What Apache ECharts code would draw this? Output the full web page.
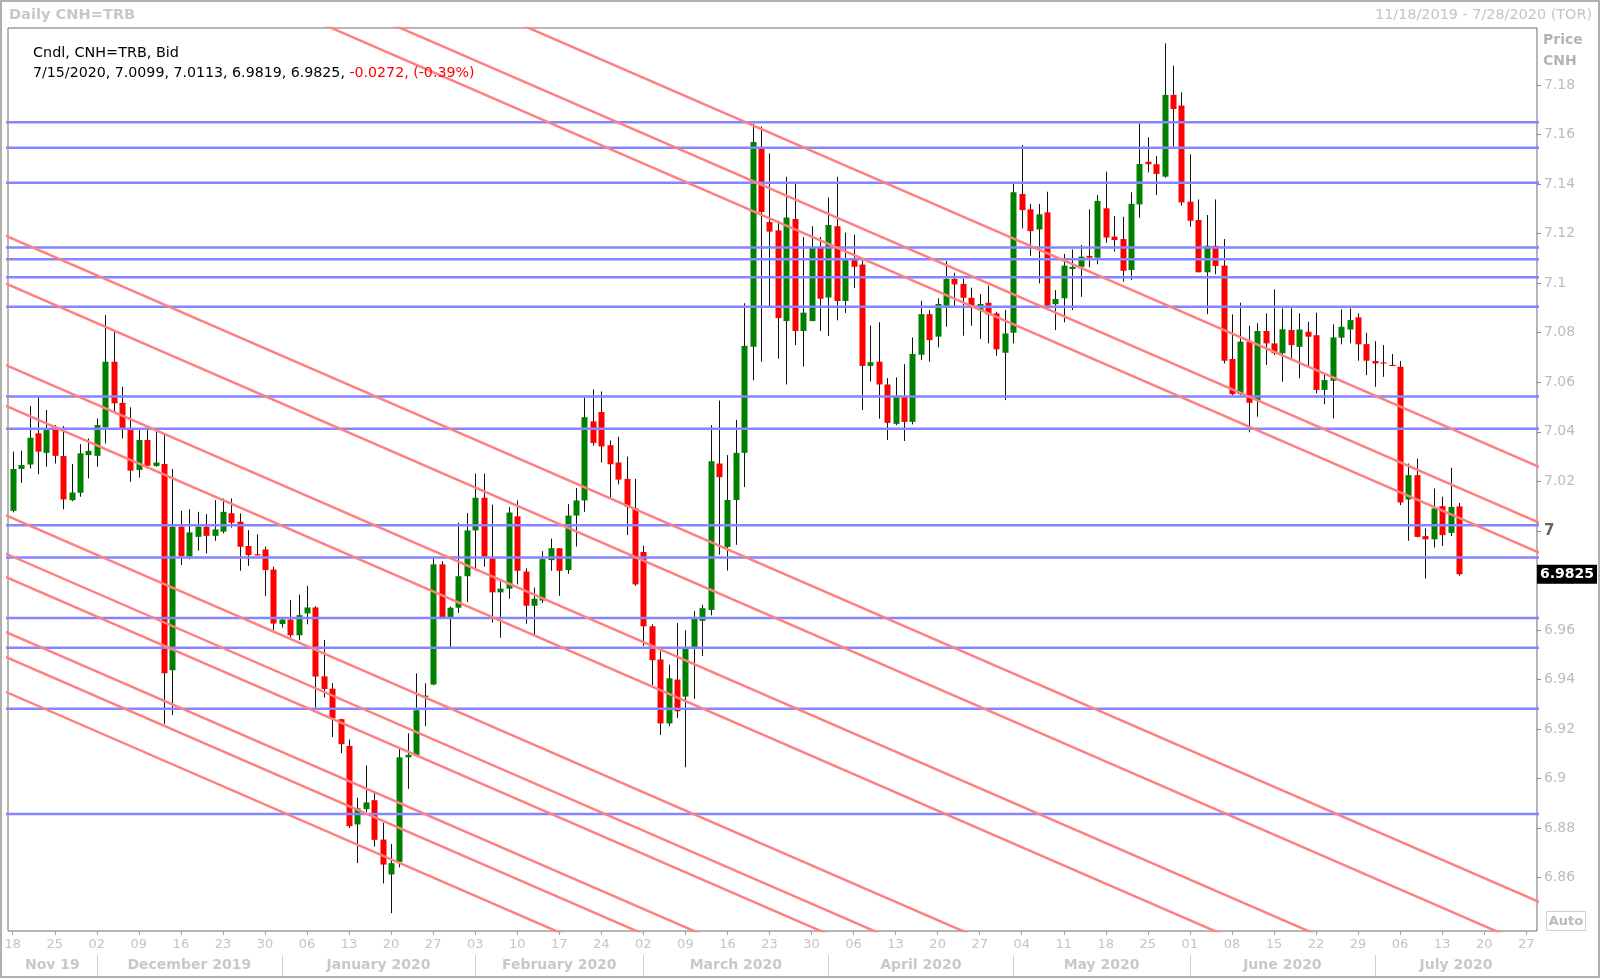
<!DOCTYPE html>
<html><head><meta charset="utf-8">
<script src="https://cdn.jsdelivr.net/npm/echarts@6/dist/echarts.min.js"></script>
<style>html,body{margin:0;padding:0;background:#fff}#c{width:1600px;height:978px}</style>
</head><body><div id="c"></div>
<script>
// ---- data ----
const opens = [7.0081,7.0250,7.0268,7.0394,7.0315,7.0420,7.0302,7.0124,7.0154,7.0306,
7.0303,7.0418,7.0683,7.0517,7.0407,7.0246,7.0367,7.0262,7.0270,6.9438,
7.0017,6.9896,6.9976,7.0017,6.9980,6.9997,7.0071,7.0037,6.9939,6.9905,
6.9925,6.9844,6.9624,6.9642,6.9579,6.9667,6.9691,6.9413,6.9363,6.9240,
6.9132,6.8815,6.8877,6.8913,6.8754,6.8613,6.8664,6.9086,6.9092,6.9330,
6.9380,6.9865,6.9651,6.9690,6.9817,7.0002,7.0134,6.9889,6.9752,6.9767,
7.0059,6.9836,6.9698,6.9719,6.9882,6.9930,6.9842,7.0062,7.0123,7.0442,
7.0480,7.0346,7.0276,7.0210,7.0091,6.9915,6.9615,6.9481,6.9223,6.9400,
6.9331,6.9526,6.9637,6.9681,7.0272,6.9935,7.0125,7.0315,7.0743,7.1544,
7.1247,7.1213,7.0847,7.1259,7.0807,7.0847,7.1144,7.0942,7.1230,7.0928,
7.1101,7.1075,7.0666,7.0683,7.0591,7.0432,7.0542,7.0440,7.0711,7.0875,
7.0784,7.0909,7.1017,7.0997,7.0941,7.0891,7.0921,7.0878,7.0719,7.0800,
7.1360,7.1298,7.1217,7.1286,7.0915,7.0939,7.1057,7.1066,7.1110,7.1103,
7.1302,7.1188,7.1178,7.1053,7.1318,7.1490,7.1480,7.1430,7.1760,7.1717,
7.1329,7.1255,7.1044,7.1151,7.1071,7.0694,7.0552,7.0764,7.0528,7.0807,
7.0757,7.0717,7.0811,7.0743,7.0804,7.0790,7.0569,7.0606,7.0780,7.0813,
7.0862,7.0754,7.0686,7.0680,7.0669,7.0663,7.0127,7.0225,6.9979,6.9966,
7.0100,6.9992,7.0099];
const highs = [7.0320,7.0324,7.0504,7.0538,7.0488,7.0427,7.0423,7.0270,7.0350,7.0373,
7.0454,7.0871,7.0807,7.0582,7.0499,7.0407,7.0414,7.0400,7.0390,7.0250,
7.0081,7.0087,7.0077,7.0068,7.0124,7.0131,7.0131,7.0071,7.0003,6.9986,
6.9936,6.9855,6.9647,6.9721,6.9743,6.9778,6.9696,6.9560,6.9385,6.9242,
6.9158,6.8923,6.9053,6.8945,6.8822,6.8736,6.9125,6.9183,6.9425,6.9385,
6.9889,6.9878,6.9695,7.0033,7.0072,7.0231,7.0231,7.0106,6.9796,7.0096,
7.0123,6.9849,6.9771,6.9918,6.9969,6.9930,7.0108,7.0173,7.0538,7.0571,
7.0563,7.0365,7.0380,7.0300,7.0210,6.9940,6.9623,6.9514,6.9460,6.9628,
6.9599,6.9676,6.9702,7.0427,7.0526,7.0306,7.0448,7.0919,7.1644,7.1632,
7.1523,7.1252,7.1429,7.1403,7.1187,7.1230,7.1187,7.1346,7.1429,7.1204,
7.1196,7.1092,7.0829,7.0842,7.0617,7.0620,7.0673,7.0781,7.0929,7.0891,
7.0939,7.1089,7.1042,7.1017,7.0982,7.0956,7.0990,7.0885,7.0892,7.1403,
7.1558,7.1320,7.1320,7.1369,7.0972,7.1118,7.1136,7.1154,7.1298,7.1356,
7.1450,7.1271,7.1268,7.1367,7.1645,7.1589,7.1513,7.1968,7.1878,7.1770,
7.1520,7.1338,7.1275,7.1338,7.1178,7.0874,7.0921,7.0828,7.0838,7.0878,
7.0975,7.0898,7.0898,7.0878,7.0844,7.0881,7.0636,7.0834,7.0894,7.0898,
7.0878,7.0800,7.0766,7.0750,7.0714,7.0686,7.0272,7.0292,7.0010,7.0171,
7.0138,7.0255,7.0113];
const lows = [7.0075,7.0194,7.0252,7.0229,7.0259,7.0272,7.0087,7.0120,7.0138,7.0212,
7.0259,7.0353,7.0474,7.0373,7.0198,7.0215,7.0252,7.0259,6.9220,6.9256,
6.9862,6.9885,6.9920,6.9909,6.9960,6.9990,7.0013,6.9839,6.9859,6.9900,
6.9738,6.9599,6.9610,6.9570,6.9559,6.9623,6.9287,6.9327,6.9168,6.9103,
6.8801,6.8659,6.8866,6.8726,6.8577,6.8457,6.8642,6.8959,6.9089,6.9212,
6.9377,6.9649,6.9529,6.9669,6.9713,6.9839,6.9856,6.9630,6.9569,6.9726,
6.9784,6.9625,6.9579,6.9709,6.9839,6.9738,6.9827,6.9937,7.0077,7.0344,
7.0276,7.0134,7.0188,6.9983,6.9778,6.9536,6.9377,6.9176,6.9212,6.9245,
6.9046,6.9322,6.9495,6.9659,6.9904,6.9840,6.9944,7.0177,7.0608,7.0683,
7.0902,7.0695,7.0591,7.0750,7.0664,7.0847,7.0807,7.0787,7.0850,7.0880,
7.0980,7.0488,7.0603,7.0453,7.0367,7.0427,7.0363,7.0430,7.0690,7.0683,
7.0741,7.0824,7.0909,7.0788,7.0828,7.0775,7.0757,7.0707,7.0528,7.0757,
7.1221,7.1110,7.0999,7.0909,7.0811,7.0842,7.0892,7.0945,7.1064,7.1076,
7.1163,7.1127,7.1006,7.1013,7.1264,7.1447,7.1356,7.1426,7.1551,7.1313,
7.1228,7.1044,7.0875,7.1036,7.0676,7.0548,7.0548,7.0398,7.0461,7.0670,
7.0710,7.0602,7.0690,7.0616,7.0663,7.0555,7.0511,7.0454,7.0753,7.0757,
7.0687,7.0629,7.0582,7.0622,7.0665,7.0104,6.9960,6.9974,6.9808,6.9933,
6.9939,6.9979,6.9819];
const closes = [7.0250,7.0266,7.0376,7.0320,7.0407,7.0303,7.0127,7.0155,7.0313,7.0323,
7.0427,7.0683,7.0515,7.0407,7.0243,7.0367,7.0263,7.0276,6.9425,7.0017,
6.9898,6.9994,7.0017,6.9980,7.0006,7.0077,7.0033,6.9936,6.9902,6.9902,
6.9842,6.9626,6.9642,6.9579,6.9660,6.9691,6.9412,6.9362,6.9243,6.9139,
6.8808,6.8880,6.8904,6.8753,6.8653,6.8659,6.9086,6.9096,6.9276,6.9335,
6.9865,6.9651,6.9690,6.9817,7.0002,7.0134,6.9897,6.9752,6.9767,7.0074,
6.9839,6.9698,6.9726,6.9886,6.9930,6.9839,7.0062,7.0123,7.0459,7.0355,
7.0341,7.0269,7.0207,7.0098,6.9784,6.9615,6.9478,6.9223,6.9405,6.9272,
6.9526,6.9650,6.9688,7.0281,7.0217,7.0125,7.0315,7.0747,7.1570,7.1287,
7.1208,7.0859,7.1265,7.0807,7.0881,7.1144,7.0937,7.1235,7.0928,7.1101,
7.1066,7.0666,7.0681,7.0591,7.0436,7.0545,7.0440,7.0714,7.0875,7.0770,
7.0916,7.1017,7.0995,7.0941,7.0909,7.0916,7.0874,7.0733,7.0797,7.1367,
7.1295,7.1210,7.1278,7.0909,7.0936,7.1071,7.1066,7.1107,7.1103,7.1332,
7.1184,7.1174,7.1050,7.1320,7.1481,7.1480,7.1441,7.1760,7.1703,7.1326,
7.1252,7.1044,7.1151,7.1069,7.0687,7.0552,7.0764,7.0517,7.0807,7.0757,
7.0717,7.0814,7.0750,7.0813,7.0784,7.0569,7.0609,7.0781,7.0824,7.0851,
7.0753,7.0687,7.0676,7.0676,7.0667,7.0115,7.0225,6.9976,6.9966,7.0091,
6.9983,7.0097,6.9825];

const firstDay = [2019, 11, 18];
const lastDay = [2020, 7, 28];
const yTicks = [6.86,6.88,6.90,6.92,6.94,6.96,6.98,7.00,7.02,7.04,7.06,7.08,7.10,7.12,7.14,7.16,7.18];
const monthLabels = ['Nov 19','December 2019','January 2020','February 2020','March 2020','April 2020','May 2020','June 2020','July 2020'];
// horizontal support / resistance levels (blue)
const levels = [7.1650,7.1547,7.1405,7.1144,7.1097,7.1024,7.0905,7.0543,7.0412,7.0023,6.9893,6.9648,6.9528,6.9282,6.8857];
// trend lines (red): price on 2019-11-18 and on 2020-07-28
const trendLines = [
  [7.2935,7.0266],[7.2710,7.0041],[7.2589,6.9920],
  [7.1179,6.8510],[7.0986,6.8317],[7.0657,6.7988],[7.0493,6.7824],
  [7.0051,6.7382],[6.9896,6.7227],[6.9802,6.7133],[6.9580,6.6911],
  [6.9479,6.6810],[6.9338,6.6669]
];

// ---- axis categories: every weekday in the range ----
const dates = [];
(function(){
  let t = Date.UTC(firstDay[0], firstDay[1]-1, firstDay[2]);
  const end = Date.UTC(lastDay[0], lastDay[1]-1, lastDay[2]);
  while (t <= end) { const d = new Date(t); const wd = d.getUTCDay(); if (wd > 0 && wd < 6) dates.push(d); t += 86400000; }
})();
const lastIdx = dates.length - 1;
const X_MIN = -0.56, X_MAX = lastIdx + 0.28;
const Y_MIN = 6.8385, Y_MAX = 7.2030;
const mondays = [];
const monthStarts = [];
dates.forEach((d, i) => {
  if (d.getUTCDay() === 1) mondays.push(i);
  if (i > 0 && d.getUTCMonth() !== dates[i-1].getUTCMonth()) monthStarts.push(i);
});
const bounds = [X_MIN].concat(monthStarts, [X_MAX]);
const monthMids = [];
for (let k = 0; k < bounds.length - 1; k++) monthMids.push((bounds[k] + bounds[k+1]) / 2);

const FONT = 'DejaVu Sans';
const candleData = opens.map((o, i) => [i, o, closes[i], lows[i], highs[i]]);

const series = [];
series.push({
  type: 'custom', xAxisIndex: 0, yAxisIndex: 0, clip: true, z: 2, silent: true,
  data: candleData,
  encode: { x: 0, y: [1,2,3,4] },
  renderItem: function (params, api) {
    const x = api.value(0), o = api.value(1), c = api.value(2), l = api.value(3), h = api.value(4);
    const pO = api.coord([x, o]), pC = api.coord([x, c]), pL = api.coord([x, l]), pH = api.coord([x, h]);
    let top = Math.min(pO[1], pC[1]), bot = Math.max(pO[1], pC[1]);
    if (bot - top < 1.2) { const m = (top + bot) / 2; top = m - 0.6; bot = m + 0.6; }
    const rx = Math.round(pO[0]);
    const col = c >= o ? '#008000' : '#ff0000';
    return { type: 'group', children: [
      { type: 'line', shape: { x1: rx + 0.5, y1: pH[1], x2: rx + 0.5, y2: pL[1] }, style: { stroke: '#111', lineWidth: 1 } },
      { type: 'rect', shape: { x: rx - 2.5, y: top, width: 6, height: bot - top }, style: { fill: col } }
    ]};
  }
});
levels.forEach(p => {
  series.push({ type: 'line', xAxisIndex: 0, yAxisIndex: 0, silent: true, z: 3, clip: true,
    showSymbol: false, symbol: 'none', animation: false,
    lineStyle: { color: '#8585ff', width: 2.5 },
    data: [[X_MIN - 2, p], [X_MAX + 2, p]] });
});
trendLines.forEach(([p0, p1]) => {
  const s = (p1 - p0) / lastIdx;
  const xa = X_MIN - 2, xb = X_MAX + 2;
  series.push({ type: 'line', xAxisIndex: 0, yAxisIndex: 0, silent: true, z: 4, clip: true,
    showSymbol: false, symbol: 'none', animation: false,
    lineStyle: { color: '#ff8080', width: 2.5 },
    data: [[xa, p0 + s * xa], [xb, p0 + s * xb]] });
});

const li = opens.length - 1;
const ld = dates[li];
const chg = closes[li] - closes[li-1];
const pct = chg / closes[li-1] * 100;
const line2a = (ld.getUTCMonth()+1) + '/' + ld.getUTCDate() + '/' + ld.getUTCFullYear() + ', ' +
  opens[li].toFixed(4) + ', ' + highs[li].toFixed(4) + ', ' + lows[li].toFixed(4) + ', ' + closes[li].toFixed(4) + ', ';
const line2b = chg.toFixed(4) + ', (' + pct.toFixed(2) + '%)';

const option = {
  animation: false,
  backgroundColor: '#fff',
  grid: { left: 8, right: 62, top: 28, bottom: 47, show: true, borderColor: '#6e6e6e', borderWidth: 1, backgroundColor: '#fff' },
  xAxis: [
    { type: 'value', min: X_MIN, max: X_MAX, position: 'bottom', splitLine: { show: false },
      axisLine: { show: false, onZero: false },
      axisTick: { show: true, customValues: mondays, length: 4, lineStyle: { color: '#a0a0a0' } },
      axisLabel: { customValues: mondays, margin: 7, fontFamily: FONT, fontSize: 13, color: '#c4c4c4',
        formatter: v => String(dates[Math.round(v)].getUTCDate()).padStart(2, '0') } },
    { type: 'value', min: X_MIN, max: X_MAX, position: 'bottom', offset: 24, splitLine: { show: false },
      axisLine: { show: false, onZero: false },
      axisTick: { show: true, customValues: monthStarts, length: 21, lineStyle: { color: '#d0d0d0' } },
      axisLabel: { customValues: monthMids, margin: 3, fontFamily: FONT, fontSize: 14, fontWeight: 'bold', color: '#c8c8c8',
        formatter: v => { let k = 0, best = 1e9; monthMids.forEach((m, j) => { if (Math.abs(m - v) < best) { best = Math.abs(m - v); k = j; } }); return monthLabels[k]; } } }
  ],
  yAxis: [
    { type: 'value', position: 'right', min: Y_MIN, max: Y_MAX, splitLine: { show: false },
      axisLine: { show: false, onZero: false },
      axisTick: { show: true, customValues: yTicks, length: 4, lineStyle: { color: '#8a8a8a' } },
      axisLabel: { customValues: yTicks, margin: 7, fontFamily: FONT, fontSize: 14, color: '#bcbcbc',
        formatter: v => Math.abs(v - 7) < 1e-9 ? '{b|7}' : String(+v.toFixed(2)),
        rich: { b: { fontFamily: FONT, fontSize: 15, fontWeight: 'bold', color: '#666' } } } },
    { type: 'value', position: 'right', min: Y_MIN, max: Y_MAX, splitLine: { show: false },
      axisLine: { show: false, onZero: false }, axisTick: { show: false }, z: 10,
      axisLabel: { customValues: [closes[li]], margin: 0, fontFamily: FONT, fontSize: 14, fontWeight: 'bold',
        color: '#fff', backgroundColor: '#000', padding: [3, 3, 2, 3],
        formatter: v => v.toFixed(4) } }
  ],
  graphic: [
    { type: 'rect', shape: { x: 1, y: 1, width: 1598, height: 976 }, style: { fill: 'none', stroke: '#b0b0b0', lineWidth: 2 }, z: 100, silent: true },
    { type: 'text', left: 9, top: 8, style: { text: 'Daily CNH=TRB', font: 'bold 14.6px "DejaVu Sans"', fill: '#c8c8c8' } },
    { type: 'text', right: 8, top: 8, style: { text: '11/18/2019 - 7/28/2020 (TOR)', font: '14.4px "DejaVu Sans"', fill: '#c4c4c4' } },
    { type: 'text', left: 1543, top: 33, style: { text: 'Price', font: 'bold 14px "DejaVu Sans"', fill: '#b4b4b4' } },
    { type: 'text', left: 1543, top: 54, style: { text: 'CNH', font: 'bold 14px "DejaVu Sans"', fill: '#b4b4b4' } },
    { type: 'text', left: 33, top: 46, z: 50, style: { text: 'Cndl, CNH=TRB, Bid', font: '14.4px "DejaVu Sans"', fill: '#000' } },
    { type: 'text', left: 33, top: 66, z: 50, style: { text: '{a|' + line2a + '}{r|' + line2b + '}', font: '14.2px "DejaVu Sans"',
      rich: { a: { fill: '#000', color: '#000', fontFamily: FONT, fontSize: 14.2 }, r: { fill: '#ff0000', color: '#ff0000', fontFamily: FONT, fontSize: 14.2 } } } },
    { type: 'group', left: 1546, top: 911, children: [
      { type: 'rect', shape: { x: 0, y: 0, width: 39, height: 19 }, style: { fill: '#fff', stroke: '#d0d0d0', lineWidth: 1 } },
      { type: 'text', x: 19.5, y: 10, style: { text: 'Auto', font: 'bold 13px "DejaVu Sans"', fill: '#bbbbbb', textAlign: 'center', textVerticalAlign: 'middle' } }
    ] }
  ],
  series: series
};
const chart = echarts.init(document.getElementById('c'), null, { renderer: 'canvas' });
chart.setOption(option);
</script></body></html>
